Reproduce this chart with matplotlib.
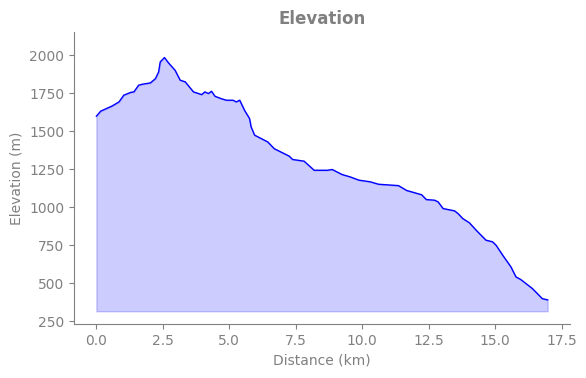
import matplotlib
matplotlib.use("Agg")
import matplotlib.pyplot as plt

# distance (km) and elevation (m)
distance = [0.0, 0.16, 0.59, 0.85, 1.03, 1.28, 1.41, 1.59, 1.72, 2.03, 2.22, 2.34,
            2.40, 2.56, 2.71, 2.96, 3.15, 3.34, 3.65, 3.96, 4.08, 4.21, 4.33, 4.46,
            4.70, 4.89, 5.14, 5.26, 5.39, 5.57, 5.76, 5.82, 5.95, 6.44, 6.69, 7.25,
            7.38, 7.81, 8.19, 8.68, 8.87, 9.24, 9.55, 9.87, 10.30, 10.61, 11.36,
            11.67, 12.23, 12.41, 12.72, 12.85, 13.04, 13.47, 13.60, 13.78, 14.03,
            14.28, 14.65, 14.90, 15.03, 15.28, 15.59, 15.78, 15.96, 16.40, 16.77, 16.97]
elevation = [1599, 1632, 1666, 1693, 1737, 1755, 1759, 1803, 1809, 1818, 1846, 1890,
             1956, 1985, 1950, 1901, 1836, 1825, 1759, 1741, 1759, 1748, 1763, 1730,
             1714, 1704, 1704, 1693, 1704, 1638, 1583, 1528, 1474, 1430, 1385, 1336,
             1314, 1303, 1243, 1243, 1248, 1215, 1199, 1178, 1167, 1151, 1142,
             1110, 1082, 1050, 1046, 1035, 991, 976, 958, 925, 897,
             849, 783, 772, 750, 684, 607, 541, 524, 464, 398, 390]
baseline = 315

grey = "#808080"

fig, ax = plt.subplots(figsize=(5.86, 3.78), dpi=100)
fig.subplots_adjust(left=0.126, right=0.973, top=0.9145, bottom=0.142)

ax.plot(distance, elevation, color="blue", linewidth=1)
ax.fill_between(distance, elevation, baseline, color="blue", alpha=0.2)

ax.set_ylim(229, 2151)
ax.set_title("Elevation", color=grey, fontweight="bold", fontsize=12)
ax.set_xlabel("Distance (km)", color=grey)
ax.set_ylabel("Elevation (m)", color=grey)

for side in ["top", "right"]:
    ax.spines[side].set_visible(False)
for side in ["left", "bottom"]:
    ax.spines[side].set_color(grey)
ax.tick_params(colors=grey)

fig.savefig("out.png", dpi=100)
